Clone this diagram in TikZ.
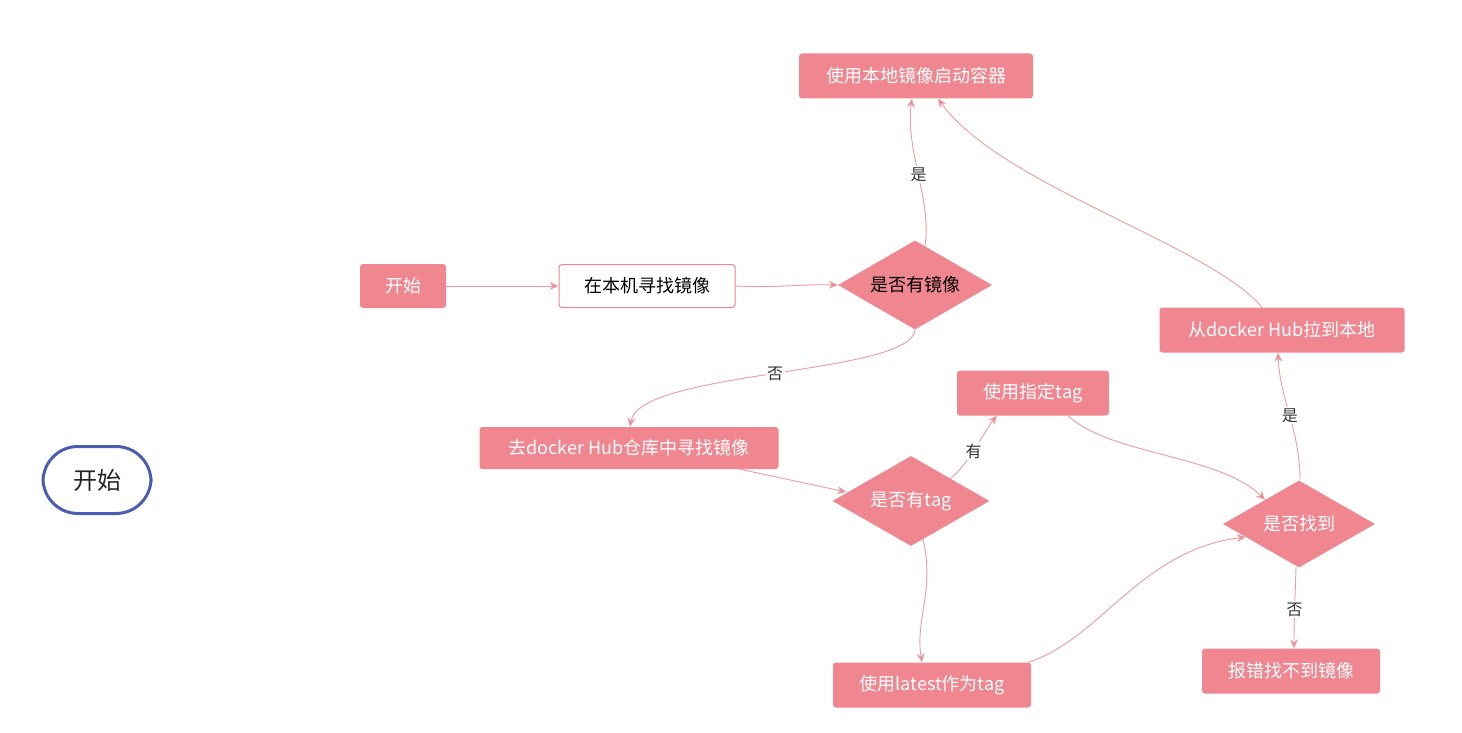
\documentclass[tikz,border=0pt]{standalone}
\usepackage{fontspec}
\setmainfont{Noto Sans CJK SC}
\usetikzlibrary{shapes.geometric,arrows.meta,calc}
\definecolor{pinkfill}{HTML}{F0868F}
\definecolor{pinkline}{HTML}{EE9AA2}
\definecolor{termblue}{HTML}{4A5DB3}
\definecolor{labelgray}{HTML}{333333}
\tikzset{
  pbox/.style={rectangle, rounded corners=3pt, fill=pinkfill, text=white, inner sep=0pt,
    font=\fontsize{18}{21}\selectfont},
  wbox/.style={rectangle, rounded corners=3pt, fill=white, draw=pinkfill, line width=1pt, text=black, inner sep=0pt,
    font=\fontsize{18}{21}\selectfont},
  pdia/.style={diamond, aspect=1.75, fill=pinkfill, text=white, inner sep=0pt,
    font=\fontsize{18}{21}\selectfont},
  conn/.style={draw=pinkline, line width=0.9pt, -{Stealth[length=9pt,width=8pt,fill=pinkfill]}},
  elabel/.style={fill=white, text=labelgray, inner sep=1.5pt, font=\fontsize{16}{19}\selectfont},
  termbox/.style={rectangle, rounded corners=35pt, draw=termblue, line width=3pt, fill=white,
    text=black!85, font=\fontsize{24}{28}\selectfont}
}
\begin{document}
\begin{tikzpicture}[x=1pt,y=-1pt]
\useasboundingbox (0,0) rectangle (1462,733);
% nodes
\node[termbox, minimum width=108pt, minimum height=67pt] (term) at (97,480) {开始};
\node[pbox, minimum width=86pt, minimum height=44pt] (start) at (403,286) {开始};
\node[wbox, minimum width=176pt, minimum height=43pt] (find) at (647,286) {在本机寻找镜像};
\node[pdia, minimum width=154pt, minimum height=89pt, text=black] (d1) at (915,285) {是否有镜像};
\node[pbox, minimum width=234pt, minimum height=45pt] (use) at (916,76) {使用本地镜像启动容器};
\node[pbox, minimum width=245pt, minimum height=45pt] (pull) at (1282,330) {从docker Hub拉到本地};
\node[pbox, minimum width=299pt, minimum height=42pt] (hub) at (629,448) {去docker Hub仓库中寻找镜像};
\node[pbox, minimum width=152pt, minimum height=45pt] (spec) at (1033,393) {使用指定tag};
\node[pdia, minimum width=157pt, minimum height=90pt] (d2) at (911,501) {是否有tag};
\node[pdia, minimum width=152pt, minimum height=87pt] (d3) at (1299,524) {是否找到};
\node[pbox, minimum width=198pt, minimum height=45pt] (latest) at (932,685) {使用latest作为tag};
\node[pbox, minimum width=178pt, minimum height=45pt] (err) at (1291,671) {报错找不到镜像};
% connectors
\draw[conn] (start.east) -- (find.west);
\draw[conn] (find.east) .. controls (780,288) and (800,284) .. (d1.west);
\draw[conn] ([xshift=10pt,yshift=-6pt]d1.north) .. controls (932,200) and (905,150) .. ([xshift=-4pt]use.south)
  node[elabel, pos=0.5] {是};
\draw[conn] ([xshift=-20pt]pull.north) .. controls (1210,245) and (1000,185) .. ([xshift=22pt]use.south);
\draw[conn] (d1.south) .. controls (912,375) and (640,370) .. ([xshift=1pt]hub.north)
  node[elabel, pos=0.5] {否};
\draw[conn] ([xshift=111pt]hub.south) -- ([xshift=14pt,yshift=9pt]d2.west);
\draw[conn] ([xshift=40pt,yshift=-22pt]d2.north) .. controls (968,465) and (985,430) .. ([xshift=-36pt]spec.south)
  node[elabel, pos=0.45] {有};
\draw[conn] ([xshift=35pt]spec.south) .. controls (1110,455) and (1220,455) .. ([xshift=-34pt,yshift=-19.5pt]d3.north);
\draw[conn] ([xshift=12pt,yshift=7pt]d2.south) .. controls (935,590) and (915,620) .. ([xshift=-10pt]latest.north);
\draw[conn] ([xshift=96pt]latest.north) .. controls (1100,640) and (1140,550) .. ([xshift=23pt,yshift=-13pt]d3.west);
\draw[conn] ([xshift=1pt]d3.north) .. controls (1300,430) and (1280,400) .. ([xshift=-4pt]pull.south)
  node[elabel, pos=0.5] {是};
\draw[conn] ([xshift=-3pt]d3.south) .. controls (1295,600) and (1294,620) .. ([xshift=3pt]err.north)
  node[elabel, pos=0.5] {否};
\end{tikzpicture}
\end{document}
